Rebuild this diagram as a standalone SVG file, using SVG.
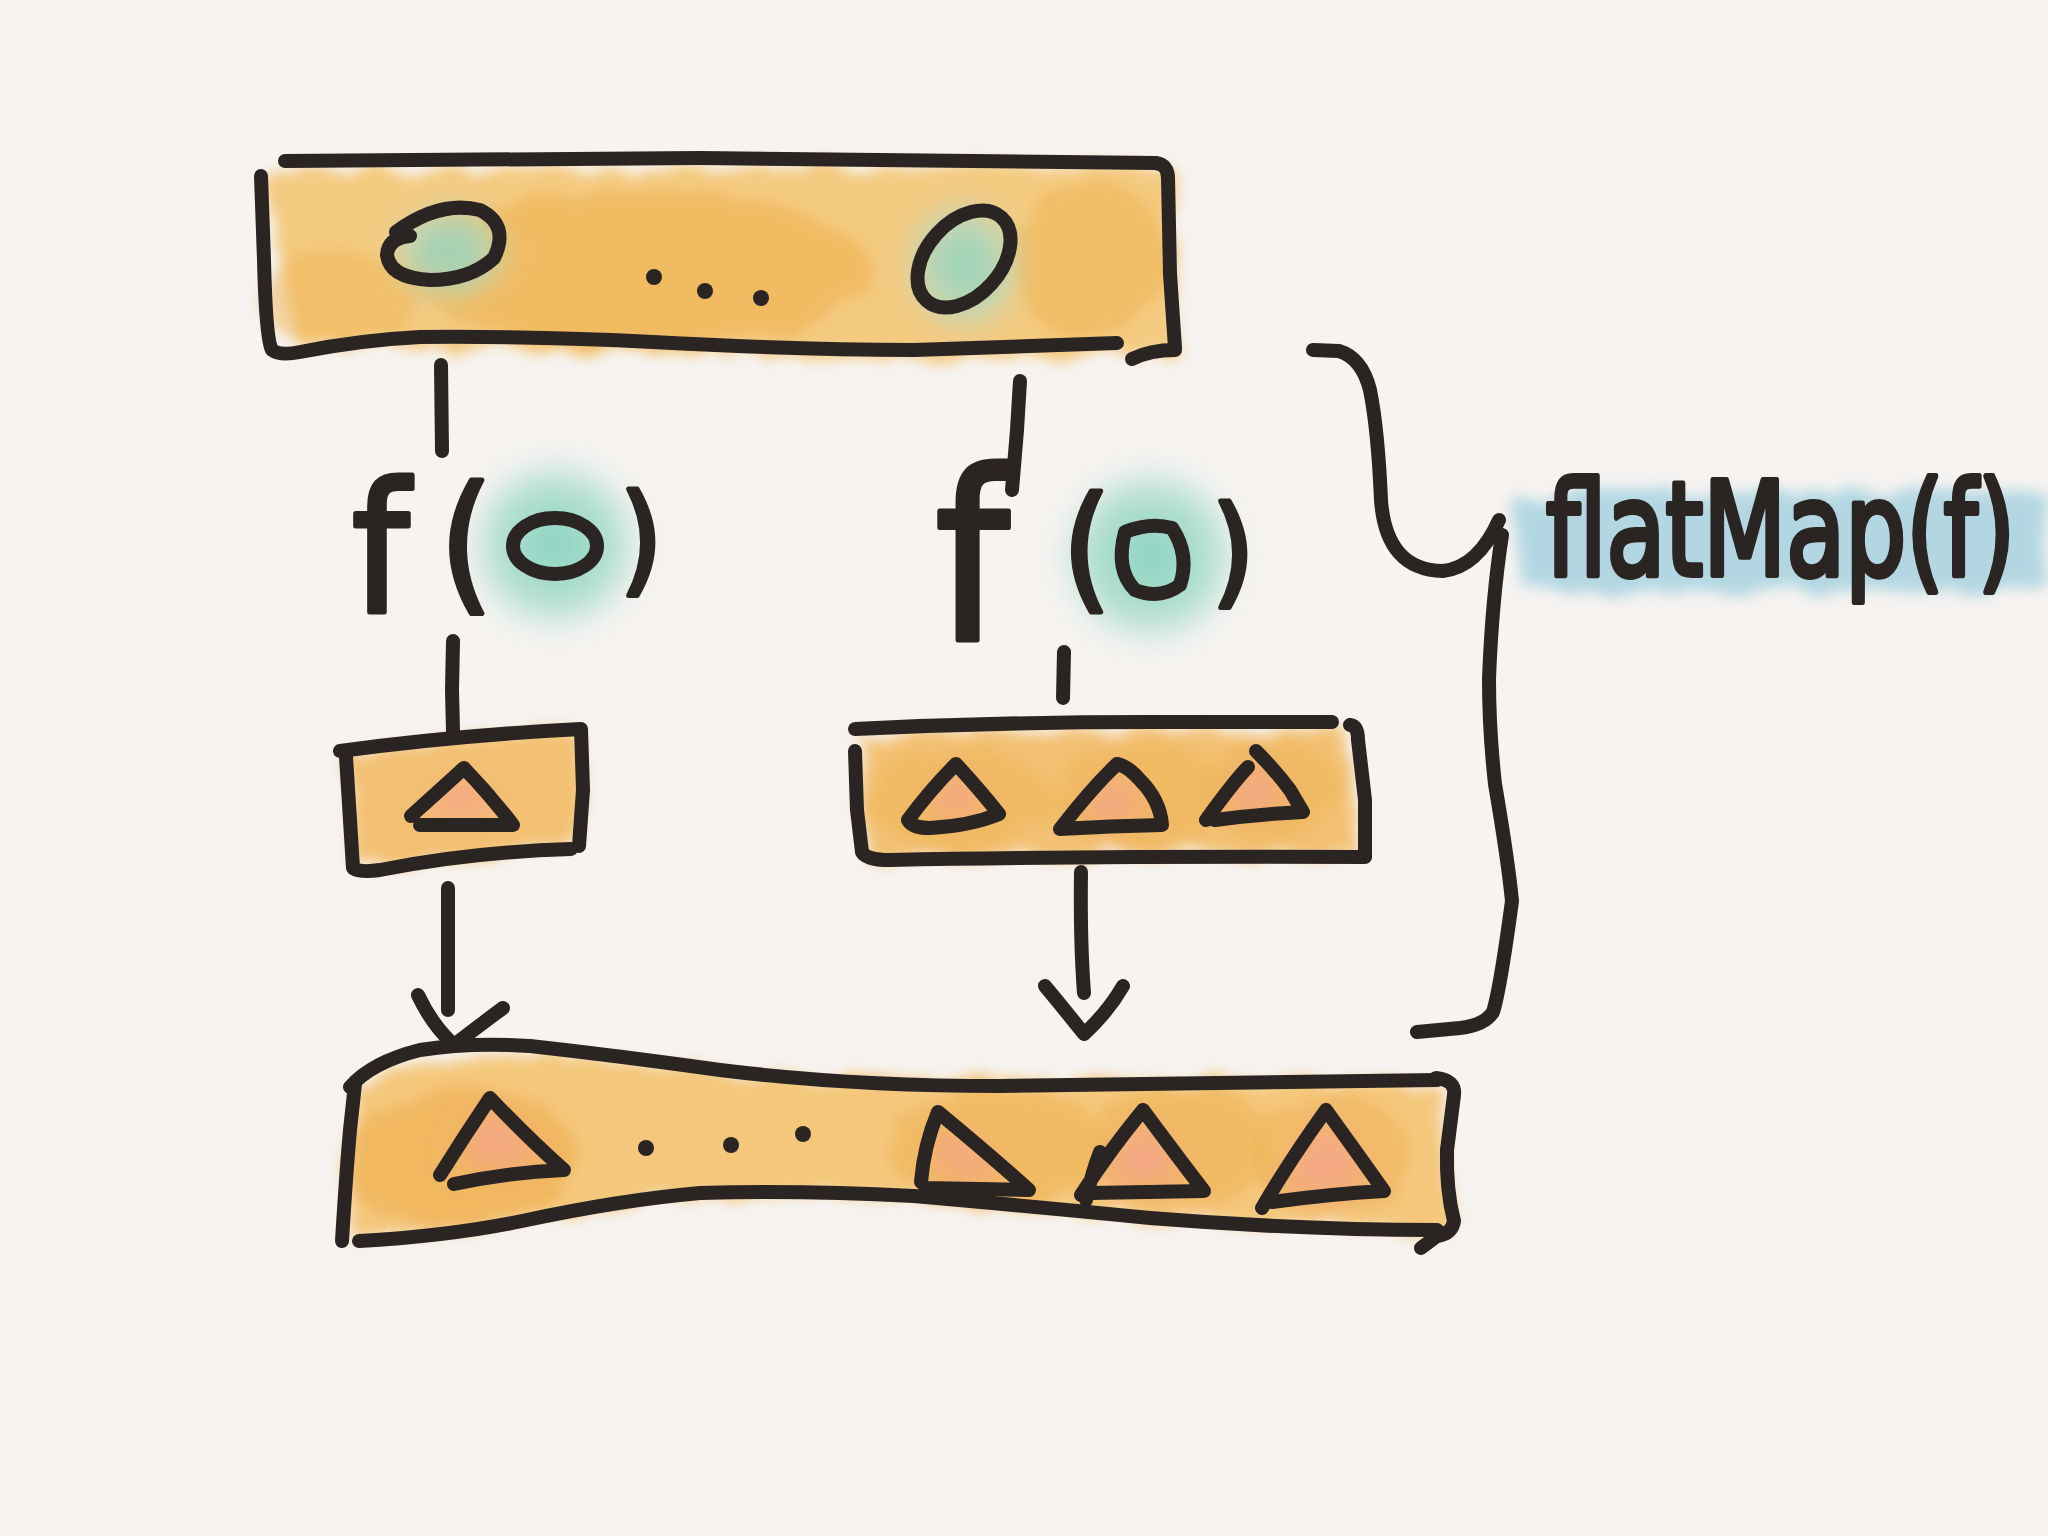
<svg xmlns="http://www.w3.org/2000/svg" width="2048" height="1536" viewBox="0 0 2048 1536">
<defs>
<style>
.ink{fill:none;stroke:#2a2422;stroke-width:14;stroke-linecap:round;stroke-linejoin:round}
.hand{font-family:"DejaVu Sans Condensed","DejaVu Sans",sans-serif;fill:#2a2422;stroke:#2a2422;stroke-width:5;stroke-linejoin:round}
.dot{fill:#2a2422}
</style>
<filter id="wc" x="-20%" y="-40%" width="140%" height="180%">
<feTurbulence type="fractalNoise" baseFrequency="0.025" numOctaves="3" seed="4"/>
<feDisplacementMap in="SourceGraphic" scale="28"/>
<feGaussianBlur stdDeviation="7"/>
</filter>
<filter id="soft" x="-50%" y="-50%" width="200%" height="200%">
<feGaussianBlur stdDeviation="14"/>
</filter>
<radialGradient id="green" cx="0.5" cy="0.5" r="0.5">
<stop offset="0" stop-color="#86d2bd"/>
<stop offset="0.7" stop-color="#a9dccd" stop-opacity="0.8"/>
<stop offset="1" stop-color="#cfeae2" stop-opacity="0"/>
</radialGradient>
<radialGradient id="salmon" cx="0.5" cy="0.5" r="0.5">
<stop offset="0" stop-color="#f6a990"/>
<stop offset="0.8" stop-color="#f4a37d" stop-opacity="0.8"/>
<stop offset="1" stop-color="#f3a070" stop-opacity="0"/>
</radialGradient>
</defs>
<rect width="2048" height="1536" fill="#f6f3f1"/>

<g id="top-box">
<g filter="url(#wc)">
<path d="M258 170 L1170 165 L1176 355 L900 360 L600 350 L300 345 Z" fill="#f4ca80"/>
<ellipse cx="640" cy="270" rx="230" ry="80" fill="#efb556" opacity="0.7"/>
<ellipse cx="1090" cy="260" rx="80" ry="80" fill="#efb556" opacity="0.6"/>
<ellipse cx="340" cy="300" rx="80" ry="50" fill="#efb556" opacity="0.5"/>
</g>
<ellipse cx="449" cy="252" rx="62" ry="50" fill="url(#green)" filter="url(#soft)" opacity="0.9"/>
<ellipse cx="964" cy="265" rx="60" ry="68" fill="url(#green)" filter="url(#soft)" opacity="0.9"/>
<path class="ink" d="M285 161 L700 158 L1156 163 Q1168 165 1168 178 L1170 274 L1175 348"/>
<path class="ink" d="M1132 359 Q1150 350 1175 350"/>
<path class="ink" d="M261 176 L264 260 Q266 340 272 350 Q280 356 300 352 Q360 340 420 337 Q540 336 653 342 Q800 350 914 350 L1117 343"/>
<path class="ink" d="M396 232 Q440 200 480 210 Q510 225 494 258 Q470 280 430 280 Q390 278 387 255 Q388 238 410 236" fill="#93d6c3"/>
<ellipse class="ink" cx="964" cy="259" rx="56" ry="37" transform="rotate(-48 964 259)" fill="#93d6c3"/>
<circle class="dot" cx="654" cy="277" r="8"/>
<circle class="dot" cx="705" cy="291" r="8"/>
<circle class="dot" cx="761" cy="298" r="8"/>
</g>

<g id="fo-left">
<circle cx="555" cy="545" r="92" fill="url(#green)" filter="url(#soft)"/>
<text class="hand" x="352" y="612" font-size="180">f</text>
<text class="hand" x="440" y="594" font-size="150">(</text>
<ellipse class="ink" cx="555" cy="546" rx="42" ry="28"/>
<text class="hand" x="620" y="580" font-size="120">)</text>
</g>

<g id="fo-right">
<circle cx="1150" cy="556" r="95" fill="url(#green)" filter="url(#soft)"/>
<text class="hand" x="935" y="640" font-size="235">f</text>
<text class="hand" x="1063" y="594" font-size="135">(</text>
<path class="ink" d="M1125 532 Q1150 522 1172 528 Q1190 555 1180 585 Q1160 600 1135 590 Q1115 570 1125 532 Z"/>
<text class="hand" x="1212" y="592" font-size="120">)</text>
</g>

<g id="box-left">
<g filter="url(#wc)">
<path d="M348 752 L580 732 L578 850 L355 868 Z" fill="#f3c173"/>
</g>
<path d="M464 770 L413 816 L512 824 Z" fill="url(#salmon)" filter="url(#soft)"/>
<path class="ink" d="M340 751 Q460 735 581 729 L583 790 L579 846"/>
<path class="ink" d="M346 757 L350 820 L353 868 Q360 873 380 870 Q470 852 571 849"/>
<path class="ink" d="M464 768 Q440 790 411 816 M464 768 Q490 795 513 825 L420 825"/>
</g>

<g id="box-right">
<g filter="url(#wc)">
<path d="M858 735 L1345 728 L1360 855 L865 858 Z" fill="#f3c173"/>
<ellipse cx="960" cy="800" rx="90" ry="50" fill="#efb556" opacity="0.6"/>
<ellipse cx="1140" cy="795" rx="90" ry="50" fill="#efb556" opacity="0.6"/>
<ellipse cx="1270" cy="790" rx="70" ry="50" fill="#efb556" opacity="0.6"/>
</g>
<path d="M956 766 L910 822 L998 814 Z" fill="url(#salmon)" filter="url(#soft)"/>
<path d="M1117 766 L1062 828 L1160 825 Z" fill="url(#salmon)" filter="url(#soft)"/>
<path d="M1256 753 L1206 820 L1302 812 Z" fill="url(#salmon)" filter="url(#soft)"/>
<path class="ink" d="M855 729 Q1000 722 1150 722 L1332 722"/>
<path class="ink" d="M1350 725 Q1358 726 1358 740 L1365 800 L1365 856"/>
<path class="ink" d="M855 751 L857 810 L862 852 Q866 860 890 860 Q1100 856 1365 857"/>
<path class="ink" d="M956 764 Q930 790 908 820 Q912 828 930 828 Q970 826 999 814 Q980 790 956 764"/>
<path class="ink" d="M1117 764 Q1090 790 1060 829 Q1110 826 1162 825 Q1160 800 1140 780 Q1128 766 1117 764"/>
<path class="ink" d="M1256 751 Q1275 770 1290 790 L1303 812 Q1260 814 1215 820 Q1210 818 1206 820 Q1235 780 1248 767"/>
</g>

<g id="bottom-box">
<g filter="url(#wc)">
<path d="M355 1090 Q400 1060 496 1050 Q640 1060 784 1078 L1440 1082 L1452 1232 Q1200 1230 1000 1205 Q800 1190 650 1200 Q480 1230 350 1240 Z" fill="#f4c77c"/>
<ellipse cx="460" cy="1160" rx="120" ry="70" fill="#efb254" opacity="0.7"/>
<ellipse cx="1000" cy="1150" rx="110" ry="60" fill="#efb254" opacity="0.6"/>
<ellipse cx="1180" cy="1145" rx="90" ry="60" fill="#efb254" opacity="0.6"/>
<ellipse cx="1330" cy="1155" rx="80" ry="60" fill="#efb254" opacity="0.5"/>
</g>
<path d="M490 1102 L440 1175 L562 1172 Z" fill="url(#salmon)" filter="url(#soft)"/>
<path d="M938 1115 L922 1182 L1028 1187 Z" fill="url(#salmon)" filter="url(#soft)"/>
<path d="M1143 1112 L1082 1194 L1203 1190 Z" fill="url(#salmon)" filter="url(#soft)"/>
<path d="M1326 1112 L1262 1206 L1383 1190 Z" fill="url(#salmon)" filter="url(#soft)"/>
<path class="ink" d="M350 1087 Q372 1062 420 1050 Q470 1042 530 1046 Q620 1056 720 1070 Q850 1086 1000 1086 Q1200 1084 1437 1080"/>
<path class="ink" d="M1436 1078 Q1456 1080 1454 1095 L1447 1150 Q1446 1190 1454 1221 Q1452 1234 1437 1236 L1421 1248"/>
<path class="ink" d="M359 1241 Q450 1236 522 1221 Q620 1200 700 1193 Q800 1190 914 1196 Q1050 1208 1150 1218 Q1300 1230 1437 1230"/>
<path class="ink" d="M355 1084 L350 1130 Q346 1175 342 1241"/>
<path class="ink" d="M490 1098 Q465 1135 440 1175 M490 1098 Q530 1140 564 1170 Q510 1172 454 1184"/>
<circle class="dot" cx="646" cy="1148" r="8"/>
<circle class="dot" cx="731" cy="1145" r="8"/>
<circle class="dot" cx="803" cy="1134" r="8"/>
<path class="ink" d="M938 1112 Q924 1145 921 1182 M938 1112 Q990 1155 1029 1190 L925 1188"/>
<path class="ink" d="M1143 1110 Q1110 1150 1081 1195 M1143 1110 Q1180 1160 1204 1191 L1090 1193 M1100 1152 Q1092 1172 1086 1200"/>
<path class="ink" d="M1326 1110 Q1290 1160 1262 1208 M1326 1110 Q1355 1150 1384 1191 Q1330 1194 1272 1202"/>
</g>

<g id="brace-label">
<path d="M1515 500 Q1600 488 1700 495 Q1850 485 2048 490 L2048 588 Q1900 596 1750 588 Q1620 596 1522 588 Z" fill="#a8d3e0" filter="url(#wc)" opacity="0.85"/>
<path class="ink" d="M1313 350 L1339 351 Q1362 358 1370 390 Q1378 430 1381 500 Q1386 570 1443 571 Q1478 567 1499 520"/>
<path class="ink" d="M1502 535 Q1492 600 1489 679 Q1489 730 1495 784 Q1508 860 1512 901 Q1500 990 1493 1012 Q1485 1025 1460 1028 L1417 1032"/>
<text transform="translate(1546 575) scale(0.74 1)" x="0" y="0" font-family="'DejaVu Sans',sans-serif" font-size="130" fill="#2a2422" stroke="#2a2422" stroke-width="6" stroke-linejoin="round">flatMap(f)</text>
</g>

<g id="connectors">
<path class="ink" d="M441 365 L442 451"/>
<path class="ink" d="M1020 381 L1017 430 L1012 490"/>
<path class="ink" d="M453 641 L452 690 L453 731"/>
<path class="ink" d="M1064 652 L1063 698"/>
<path class="ink" d="M448 888 L448 1010"/>
<path class="ink" d="M418 995 Q432 1025 454 1045 Q480 1025 503 1008"/>
<path class="ink" d="M1081 872 Q1080 940 1084 993"/>
<path class="ink" d="M1045 986 Q1065 1010 1084 1034 Q1108 1012 1123 986"/>
</g>
</svg>
